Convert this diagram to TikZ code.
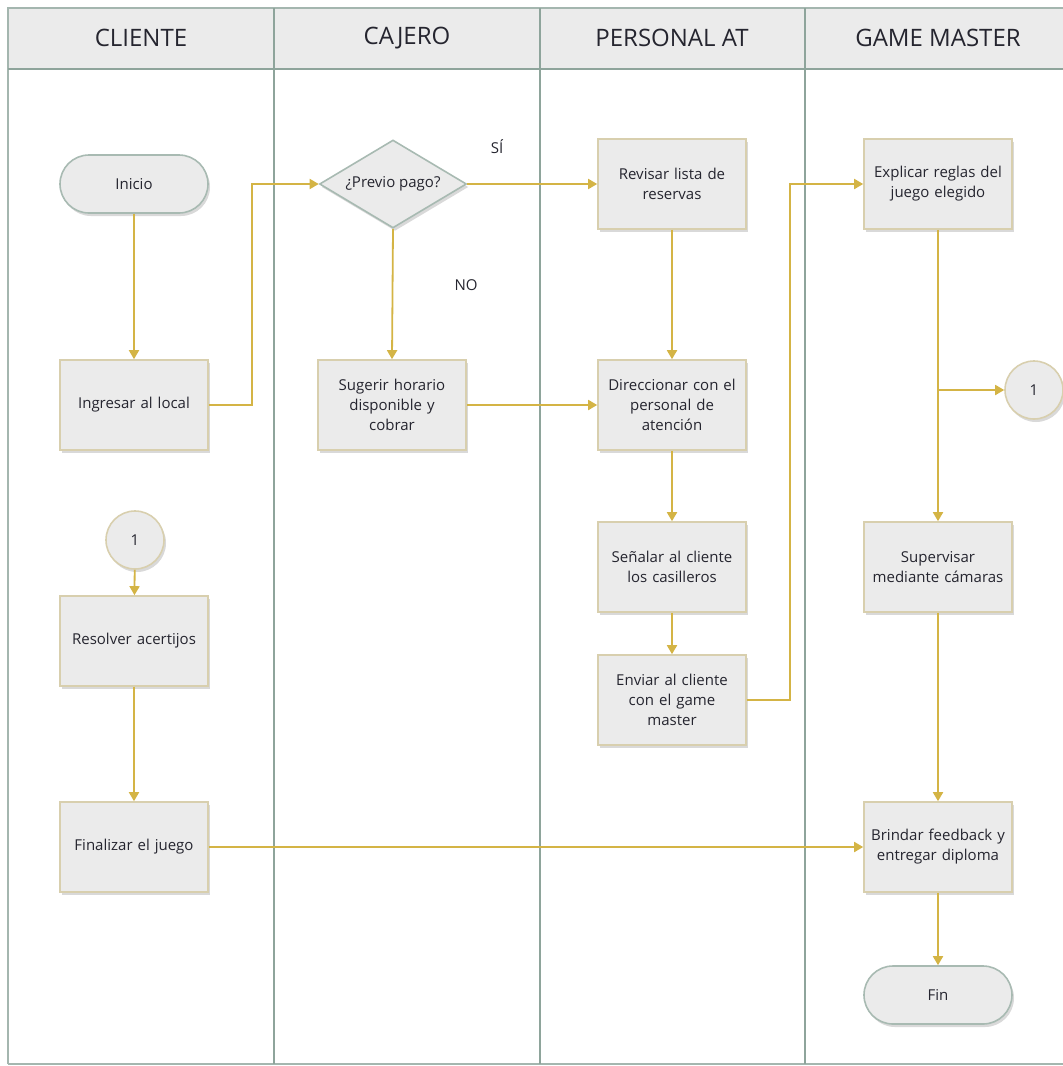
\documentclass[tikz,border=0pt]{standalone}
\usepackage{fontspec}
\setmainfont{Open Sans}
\usetikzlibrary{arrows.meta,shapes.geometric,shadows}
\definecolor{gold}{HTML}{D4B445}
\definecolor{boxfill}{HTML}{EBEBEB}
\definecolor{boxline}{HTML}{D8CFAE}
\definecolor{termline}{HTML}{A8BAB2}
\definecolor{laneline}{HTML}{8EA49B}
\definecolor{txt}{HTML}{25252F}
\tikzset{
  base/.style={fill=boxfill, text=txt, font=\fontsize{15}{20}\selectfont, align=center,
    drop shadow={shadow xshift=2pt, shadow yshift=-3pt, opacity=0.25, fill=black!60}},
  proc/.style={base, draw=boxline, line width=1.6pt, minimum width=148pt, minimum height=90pt, text width=140pt, inner sep=0pt},
  term/.style={base, draw=termline, line width=1.6pt, rounded corners=29pt, minimum width=148pt, minimum height=58pt, inner sep=0pt},
  dec/.style={base, draw=termline, line width=1.6pt, diamond, aspect=1.67, minimum width=147pt, minimum height=88pt, inner sep=0pt},
  conn/.style={base, draw=boxline, line width=1.6pt, circle, minimum size=58pt, inner sep=0pt},
  flow/.style={draw=gold, line width=1.8pt, -{Triangle[length=9pt,width=10pt]}},
  lane/.style={draw=laneline, line width=2.6pt},
  hdr/.style={font=\fontsize{24}{28}\selectfont, text=txt},
  lbl/.style={font=\fontsize{15}{18}\selectfont, text=txt}
}
\begin{document}
\begin{tikzpicture}[x=1pt,y=-1pt]
\useasboundingbox (0,0) rectangle (1063,1066);
% header
\fill[boxfill] (8,8) rectangle (1063,69);
\draw[laneline!80, line width=1.8pt] (8,1064) -- (8,8) -- (1063,8);
\draw[laneline!80, line width=1.8pt] (8,1064) -- (1063,1064);
\draw[lane] (8,69) -- (1063,69);
\draw[lane] (274,8) -- (274,1064);
\draw[lane] (540,8) -- (540,1064);
\draw[lane] (805,8) -- (805,1064);
\node[hdr] (h1) at (141,38) {CLIENTE};
\node[hdr] (h2) at (407,38) {CAJERO};
\node[hdr] (h3) at (672,38) {PERSONAL AT};
\node[hdr] (h4) at (938,38) {GAME MASTER};
% nodes
\node[term] (inicio) at (134,184) {Inicio};
\node[proc] (ingresar) at (134,405) {Ingresar al local};
\node[conn] (c1a) at (135,540) {1};
\node[proc] (resolver) at (134,641) {Resolver acertijos};
\node[proc] (finalizar) at (134,847) {Finalizar el juego};
\node[dec] (previo) at (393,184) {¿Previo pago?};
\node[proc] (sugerir) at (392,405) {Sugerir horario\\disponible y\\cobrar};
\node[proc] (revisar) at (672,184) {Revisar lista de\\reservas};
\node[proc] (direccionar) at (672,405) {Direccionar con el\\personal de\\atención};
\node[proc] (senalar) at (672,567) {Señalar al cliente\\los casilleros};
\node[proc] (enviar) at (672,700) {Enviar al cliente\\con el game\\master};
\node[proc] (explicar) at (938,184) {Explicar reglas del\\juego elegido};
\node[conn] (c1b) at (1034,390) {1};
\node[proc] (supervisar) at (938,567) {Supervisar\\mediante cámaras};
\node[proc] (brindar) at (938,847) {Brindar feedback y\\entregar diploma};
\node[term] (fin) at (938,995) {Fin};
\node[lbl] (si) at (497,147) {SÍ};
\node[lbl] (no) at (466,285) {NO};
% connectors
\coordinate (b1) at (252,405);
\coordinate (b2) at (252,184);
\coordinate (b3) at (790,700);
\coordinate (b4) at (790,184);
\coordinate (br) at (938,390);
\draw[flow] (inicio) -- (ingresar);
\draw[flow] (ingresar.east) -- (b1) -- (b2) -- (previo.west);
\draw[flow] (previo.east) -- (revisar.west);
\draw[flow] (previo.south) -- (sugerir.north);
\draw[flow] (sugerir.east) -- (direccionar.west);
\draw[flow] (revisar) -- (direccionar);
\draw[flow] (direccionar) -- (senalar);
\draw[flow] (senalar) -- (enviar);
\draw[flow] (enviar.east) -- (b3) -- (b4) -- (explicar.west);
\draw[flow] (explicar) -- (supervisar);
\draw[flow] (br) -- (c1b.west);
\draw[flow] (supervisar) -- (brindar);
\draw[flow] (brindar) -- (fin);
\draw[flow] (c1a) -- (resolver);
\draw[flow] (resolver) -- (finalizar);
\draw[flow] (finalizar.east) -- (brindar.west);
\end{tikzpicture}
\end{document}
